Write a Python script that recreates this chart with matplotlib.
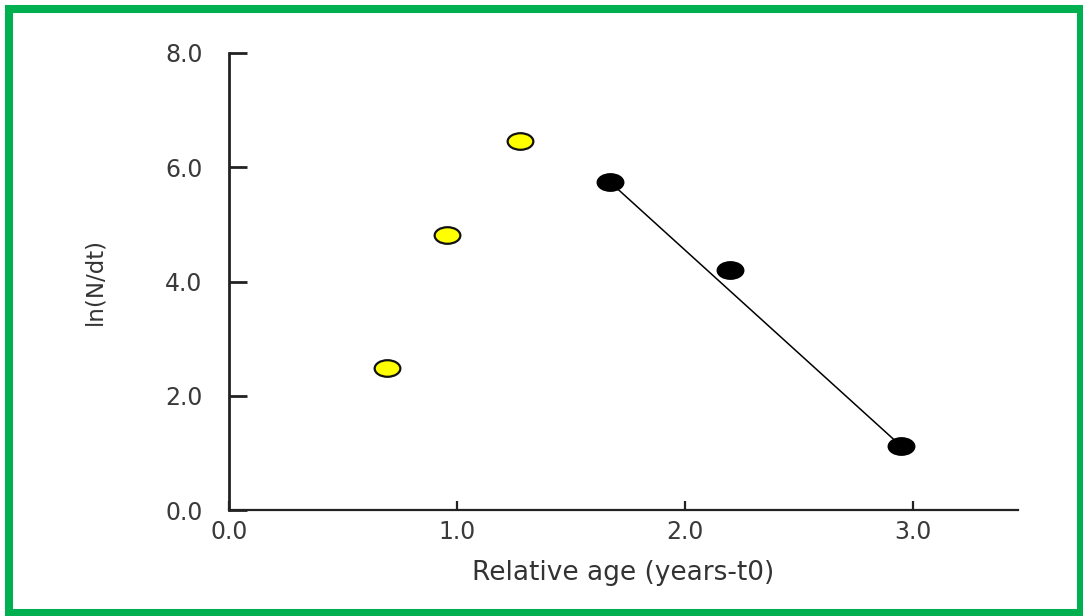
import matplotlib
matplotlib.use("Agg")
import matplotlib.pyplot as plt
import numpy as np
from matplotlib.path import Path
from matplotlib.transforms import Affine2D
from matplotlib.patches import Rectangle

# growth phase (open symbols) and decline phase (filled symbols)
rise_age = [0.693, 0.956, 1.276]
rise_lnN = [2.49, 4.82, 6.46]
fall_age = [1.671, 2.197, 2.947]
fall_lnN = [5.74, 4.20, 1.12]

x_ticks = [0.0, 1.0, 2.0, 3.0]
y_ticks = [0.0, 2.0, 4.0, 6.0, 8.0]

plt.rcParams['font.family'] = ['DejaVu Sans']

fig = plt.figure(figsize=(10.83, 6.16), dpi=100)
fig.patch.set_facecolor('white')
ax = fig.add_axes([229 / 1083, 1 - 510 / 616, (1018 - 229) / 1083, (510 - 53) / 616])

# slightly flattened round marker
dot = Path.unit_circle().transformed(Affine2D().scale(1.55, 1.0))

ax.plot(fall_age[::len(fall_age) - 1], fall_lnN[::len(fall_lnN) - 1],
        color='black', lw=1.1, zorder=2)
ax.plot(rise_age, rise_lnN, ls='none', marker=dot, ms=18.5,
        mfc='#ffff00', mec='#111111', mew=1.6, zorder=3)
ax.plot(fall_age, fall_lnN, ls='none', marker=dot, ms=18.5,
        mfc='black', mec='black', mew=1.6, zorder=3)

ax.set_xlim(0, 3.46)
ax.set_ylim(0, 8.0)
ax.set_xticks(x_ticks)
ax.set_yticks(y_ticks)
ax.set_xticklabels([f"{v:.1f}" for v in x_ticks])
ax.set_yticklabels([f"{v:.1f}" for v in y_ticks])

for side in ['top', 'right']:
    ax.spines[side].set_visible(False)
ax.spines['left'].set_linewidth(2.0)
ax.spines['bottom'].set_linewidth(1.6)
ax.spines['left'].set_color('#222222')
ax.spines['bottom'].set_color('#222222')

ax.tick_params(axis='y', direction='in', length=13, width=2.0, pad=19,
               labelsize=17, labelcolor='#3a3a3a', color='#222222')
ax.tick_params(axis='x', direction='in', length=6.5, width=1.6, pad=7,
               labelsize=17, labelcolor='#3a3a3a', color='#222222')

ax.set_xlabel('Relative age (years-t0)', fontsize=19, color='#333333', labelpad=12)
ax.set_ylabel('ln(N/dt)', fontsize=16.5, color='#333333')
ax.yaxis.set_label_coords(-0.155, 0.5)

# green frame around the whole figure
fig.patches.append(Rectangle((9 / 1083, 1 - 613 / 616), (1081 - 9) / 1083, (613 - 9) / 616,
                             transform=fig.transFigure, fill=False,
                             edgecolor='#00b050', lw=5.8, zorder=10))

fig.savefig('out.png', dpi=100)
